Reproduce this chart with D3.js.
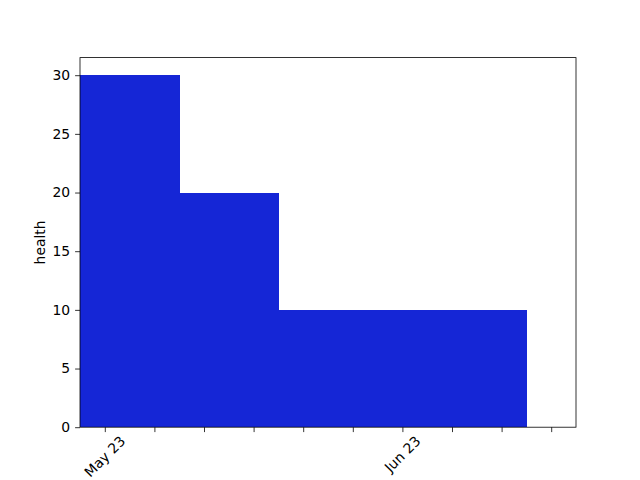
<!DOCTYPE html>
<html>
<head>
<meta charset="utf-8">
<script src="https://cdn.jsdelivr.net/npm/d3@7"></script>
<style>
  body { margin: 0; background: #fff; }
  svg { font-family: "DejaVu Sans", sans-serif; }
</style>
</head>
<body>
<svg width="640" height="480"></svg>
<script>
// one bar per period, full width; the last period is empty
const periods = [0, 1, 2, 3, 4, 5, 6, 7, 8, 9];
const health = [30, 30, 20, 20, 10, 10, 10, 10, 10, 0];
const periodLabels = ["May 23", "", "", "", "", "", "Jun 23", "", "", ""];
const yTicks = [0, 5, 10, 15, 20, 25, 30];

const svg = d3.select('svg');
const width = 640, height = 480;
const margin = { top: 57.6, bottom: 52.8, left: 80, right: 64 };
const innerWidth = width - margin.left - margin.right;
const innerHeight = height - margin.top - margin.bottom;
const barColor = '#1526d6';
const fontSize = 13.9;

const x = d3.scaleLinear()
  .domain([d3.min(periods) - 0.5, d3.max(periods) + 0.5])
  .range([0, innerWidth]);
const y = d3.scaleLinear()
  .domain([0, d3.max(health) * 1.05])
  .range([innerHeight, 0]);

const g = svg.append('g')
  .attr('transform', `translate(${margin.left},${margin.top})`);

g.selectAll('.bar')
  .data(periods)
  .enter()
  .append('rect')
  .attr('class', 'bar')
  .attr('x', d => x(d - 0.5))
  .attr('width', d => x(d + 0.5) - x(d - 0.5) + 1)
  .attr('y', (d, i) => y(health[i]))
  .attr('height', (d, i) => innerHeight - y(health[i]))
  .attr('fill', barColor)
  .attr('shape-rendering', 'crispEdges');

// y axis
const yAxis = g.append('g')
  .call(d3.axisLeft(y).tickValues(yTicks).tickSize(4.9).tickPadding(4.9));
yAxis.select('.domain').remove();
yAxis.selectAll('line').attr('stroke', '#000').attr('stroke-width', 0.8);
yAxis.selectAll('text').attr('font-size', fontSize).attr('fill', '#000')
  .attr('font-family', '"DejaVu Sans", sans-serif');

// x axis, labels rotated 45 and centred on the tick
const xAxis = g.append('g')
  .attr('transform', `translate(0,${innerHeight})`)
  .call(d3.axisBottom(x).tickValues(periods).tickSize(4.9).tickFormat(''));
xAxis.select('.domain').remove();
xAxis.selectAll('line').attr('stroke', '#000').attr('stroke-width', 0.8);

periods.forEach((p, i) => {
  if (!periodLabels[i]) return;
  const t = g.append('text')
    .attr('font-size', fontSize)
    .attr('fill', '#000')
    .attr('text-anchor', 'middle')
    .attr('dominant-baseline', 'central')
    .text(periodLabels[i]);
  const w = t.node().getComputedTextLength();
  const h = fontSize * 0.9;
  const boxH = (w + h) * Math.SQRT1_2;
  t.attr('transform',
    `translate(${x(p)},${innerHeight + 4.9 + 2 + boxH / 2}) rotate(-45)`);
});

// frame
g.append('rect')
  .attr('width', innerWidth)
  .attr('height', innerHeight)
  .attr('fill', 'none')
  .attr('stroke', '#000')
  .attr('stroke-width', 0.8);

svg.append('text')
  .attr('transform', `translate(${margin.left - 35},${margin.top + innerHeight / 2}) rotate(-90)`)
  .attr('text-anchor', 'middle')
  .attr('font-size', fontSize)
  .attr('fill', '#000')
  .text('health');
</script>
</body>
</html>
